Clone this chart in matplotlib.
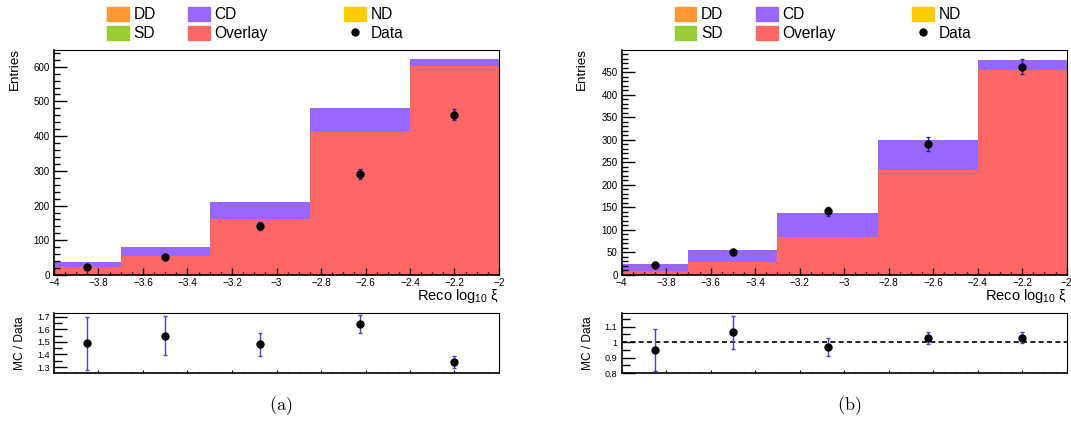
import matplotlib
matplotlib.use('Agg')
import matplotlib.pyplot as plt
import numpy as np
from matplotlib.patches import Patch
from matplotlib.lines import Line2D
from matplotlib.ticker import MultipleLocator, FuncFormatter

plt.rcParams['font.family'] = ['Liberation Sans', 'DejaVu Sans']
plt.rcParams['mathtext.fontset'] = 'custom'
plt.rcParams['mathtext.rm'] = 'Liberation Sans'
plt.rcParams['mathtext.it'] = 'Liberation Sans:italic'

# binning in reco log10(xi)
edges = np.array([-4.0, -3.7, -3.3, -2.85, -2.4, -2.0])
centers = 0.5 * (edges[:-1] + edges[1:])

# panel (a)
a_overlay = [24, 54, 160, 413, 601]
a_cd = [13, 27, 51, 67, 20]
a_data = [24, 51, 141, 291, 462]
a_data_err = [5, 7, 11, 14, 15]
a_ratio = [1.487, 1.547, 1.479, 1.639, 1.339]
a_ratio_err = [0.213, 0.154, 0.090, 0.070, 0.046]

# panel (b)
b_overlay = [8, 29, 84, 233, 455]
b_cd = [16, 27, 54, 67, 22]
b_data = [23, 51, 141, 291, 462]
b_data_err = [5, 7, 10, 15, 16]
b_ratio = [0.948, 1.065, 0.970, 1.026, 1.030]
b_ratio_err = [0.135, 0.107, 0.057, 0.041, 0.035]

c_dd = '#ff9933'
c_cd = '#9966ff'
c_nd = '#ffcc00'
c_sd = '#99cc33'
c_ov = '#ff6666'

W, H = 1071, 423
fig = plt.figure(figsize=(W / 100, H / 100), dpi=100)


def fmt(v, pos):
    s = '%g' % v
    return s.replace('-', '\u2212')


def box(x0, y0, x1, y1):
    return [x0 / W, 1 - y1 / H, (x1 - x0) / W, (y1 - y0) / H]


def panel(x0, ymax, ymaj, ymin, overlay, cd, data, derr, ratio, rerr, rlim, rmaj, dashed, label):
    ax = fig.add_axes(box(x0, 50, x0 + 445, 275))
    ax.bar(edges[:-1], overlay, width=np.diff(edges), align='edge', color=c_ov, linewidth=0)
    ax.bar(edges[:-1], cd, width=np.diff(edges), bottom=overlay, align='edge', color=c_cd, linewidth=0)
    ax.errorbar(centers, data, yerr=derr, fmt='o', color='black', ms=5,
                ecolor='#22229a', elinewidth=1, capsize=1.5, zorder=3)
    ax.set_xlim(-4, -2)
    ax.set_ylim(0, ymax)
    ax.xaxis.set_major_locator(MultipleLocator(0.2))
    ax.xaxis.set_minor_locator(MultipleLocator(0.05))
    ax.yaxis.set_major_locator(MultipleLocator(ymaj))
    ax.yaxis.set_minor_locator(MultipleLocator(ymin))
    ax.xaxis.set_major_formatter(FuncFormatter(fmt))
    ax.yaxis.set_major_formatter(FuncFormatter(fmt))
    ax.tick_params(axis='y', which='major', direction='in', length=9.4, width=1, labelsize=7, pad=3)
    ax.tick_params(axis='y', which='minor', direction='in', length=4.6, width=1)
    ax.tick_params(axis='x', which='major', direction='in', length=5, width=1, labelsize=7.2, pad=2.5)
    ax.tick_params(axis='x', which='minor', direction='in', length=2.5, width=1)
    for s in ax.spines.values():
        s.set_linewidth(0.8)
    ax.spines['left'].set_linewidth(1.2)
    ax.spines['bottom'].set_linewidth(1.2)
    ax.set_ylabel('Entries', fontsize=9.7, loc='top')
    ax.yaxis.set_label_coords(-0.075, 1.01)
    ax.set_xlabel('Reco log$_{10}$ ξ', fontsize=10.5, loc='right')
    ax.xaxis.set_label_coords(1.0, -0.052)

    rx = fig.add_axes(box(x0, 313.3, x0 + 445, 373))
    if dashed:
        rx.axhline(1.0, color='black', ls=(0, (3, 2)), lw=1.2, zorder=1)
    rx.errorbar(centers, ratio, yerr=rerr, fmt='o', color='black', ms=5,
                ecolor='#4444cc', elinewidth=1, capsize=1.5, zorder=3)
    rx.set_xlim(-4, -2)
    rx.set_ylim(*rlim)
    rx.xaxis.set_major_locator(MultipleLocator(0.2))
    rx.xaxis.set_minor_locator(MultipleLocator(0.05))
    rx.yaxis.set_major_locator(MultipleLocator(rmaj))
    rx.yaxis.set_minor_locator(MultipleLocator(rmaj / 2))
    rx.yaxis.set_major_formatter(FuncFormatter(fmt))
    rx.tick_params(axis='y', which='major', direction='in', length=9.4, width=1, labelsize=6.6, pad=3)
    rx.tick_params(axis='y', which='minor', direction='in', length=6, width=1)
    rx.tick_params(axis='x', which='major', direction='in', length=2, width=0.8, labelbottom=False)
    rx.tick_params(axis='x', which='minor', direction='in', length=1, width=0.6)
    for s in rx.spines.values():
        s.set_linewidth(0.8)
    rx.spines['left'].set_linewidth(1.2)
    rx.spines['bottom'].set_linewidth(1.2)
    rx.set_ylabel('MC / Data', fontsize=8.6)
    rx.yaxis.set_label_coords(-0.062, 0.5)

    # legend, three columns
    cols = [
        (x0 - 54 + 107, [Patch(color=c_dd), Patch(color=c_sd)], ['DD', 'SD']),
        (x0 - 54 + 188.3, [Patch(color=c_cd), Patch(color=c_ov)], ['CD', 'Overlay']),
        (x0 - 54 + 344.3, [Patch(color=c_nd),
                           Line2D([], [], ls='none', marker='o', color='black', ms=5)], ['ND', 'Data']),
    ]
    for cx, hs, ls in cols:
        fig.legend(hs, ls, loc='upper left', bbox_to_anchor=(cx / W, 1 - 7 / H),
                   frameon=False, fontsize=11.2, handlelength=1.4, handleheight=1.0,
                   handletextpad=0.3, labelspacing=0.25, borderpad=0, borderaxespad=0)

    fig.text((x0 + 227) / W, 1 - 406 / H, r'$(\mathrm{%s})$' % label, fontsize=13,
             math_fontfamily='cm', ha='center', va='center')


panel(54, 648, 100, 20, a_overlay, a_cd, a_data, a_data_err, a_ratio, a_ratio_err,
      (1.253, 1.726), 0.1, False, 'a')
panel(621.7, 499, 50, 10, b_overlay, b_cd, b_data, b_data_err, b_ratio, b_ratio_err,
      (0.8, 1.187), 0.1, True, 'b')

fig.savefig('out.png', dpi=100)
